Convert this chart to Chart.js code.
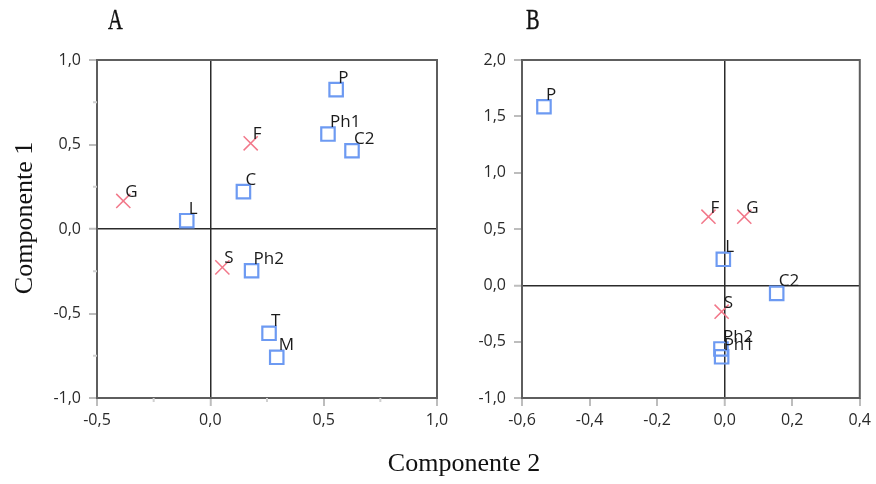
<!DOCTYPE html>
<html lang="es">
<head>
  <meta charset="UTF-8" />
  <title>Componentes A y B</title>
  <style>
    body {
      margin: 0;
      padding: 0;
      background: #ffffff;
      width: 876px;
      height: 484px;
      position: relative;
      overflow: hidden;
    }
    canvas {
      position: absolute;
      top: 0;
    }
    #chartA { left: 0; }
    #chartB { left: 440px; }
    .title {
      position: absolute;
      font-family: "Liberation Serif", serif;
      color: #111;
      white-space: nowrap;
    }
    .panel {
      font-size: 30px;
      line-height: 30px;
      top: 4px;
      transform: scaleX(0.68);
      transform-origin: left top;
      -webkit-text-stroke: 0.4px #111;
    }
    .axis {
      font-size: 26px;
      line-height: 26px;
      width: 300px;
      text-align: center;
    }
  </style>
</head>
<body>
  <canvas id="chartA" width="465" height="484"></canvas>
  <canvas id="chartB" width="436" height="484"></canvas>

  <div class="title panel" style="left:108px;">A</div>
  <div class="title panel" style="left:526px;">B</div>
  <div class="title axis" style="left:314px; top:450px;">Componente 2</div>
  <div class="title axis" style="left:-126px; top:205px; transform: rotate(-90deg);">Componente 1</div>

  <script src="https://cdn.jsdelivr.net/npm/chart.js"></script>
  <script>
    // Panel A
    const aSqLabels = ["P", "Ph1", "C2", "C", "L", "Ph2", "T", "M"];
    const aSqX = [0.555, 0.519, 0.625, 0.146, -0.104, 0.182, 0.259, 0.293];
    const aSqY = [0.825, 0.562, 0.463, 0.221, 0.049, -0.247, -0.617, -0.759];
    const aCrLabels = ["F", "G", "S"];
    const aCrX = [0.178, -0.384, 0.053];
    const aCrY = [0.507, 0.166, -0.227];

    // Panel B
    const bSqLabels = ["P", "L", "C2", "Ph2", "Ph1"];
    const bSqX = [-0.535, -0.004, 0.154, -0.011, -0.009];
    const bSqY = [1.585, 0.231, -0.071, -0.565, -0.634];
    const bCrLabels = ["F", "G", "S"];
    const bCrX = [-0.048, 0.058, -0.009];
    const bCrY = [0.609, 0.609, -0.234];

    // ejes
    const aXRange = [-0.5, 1.0], aXStep = 0.5, aXMinor = 0.25;
    const aYRange = [-1.0, 1.0], aYStep = 0.5, aYMinor = 0.25;
    const bXRange = [-0.6, 0.4], bXStep = 0.2;
    const bYRange = [-1.0, 2.0], bYStep = 0.5;

    const blue = "#6d9af2";
    const red = "#f2788a";

    Chart.defaults.font.family = "'Open Sans', sans-serif";
    Chart.defaults.font.size = 16;
    Chart.defaults.color = "#222";

    const fmt = v => (Math.abs(v) < 1e-9 ? 0 : v).toFixed(1).replace(".", ",");
    const toPts = (xs, ys) => xs.map((x, i) => ({ x: x, y: ys[i] }));

    // marco del área de trazado
    const framePlugin = {
      id: "frame",
      beforeDatasetsDraw(chart) {
        const a = chart.chartArea, ctx = chart.ctx;
        ctx.save();
        ctx.strokeStyle = "#5e5e5e";
        ctx.lineWidth = 2;
        ctx.strokeRect(a.left, a.top, a.right - a.left, a.bottom - a.top);
        ctx.restore();
      }
    };

    // marcas menores
    const minorPlugin = {
      id: "minorTicks",
      afterDraw(chart, args, opts) {
        const ctx = chart.ctx;
        ctx.save();
        ctx.strokeStyle = "#d0d0d0";
        ctx.lineWidth = 2;
        ["x", "y"].forEach(id => {
          const step = opts[id];
          if (!step) return;
          const s = chart.scales[id];
          const n = Math.round((s.max - s.min) / step);
          for (let i = 1; i < n; i += 2) {
            const p = s.getPixelForValue(s.min + i * step);
            ctx.beginPath();
            if (id === "x") {
              ctx.moveTo(p, chart.chartArea.bottom);
              ctx.lineTo(p, chart.chartArea.bottom + 4);
            } else {
              ctx.moveTo(chart.chartArea.left, p);
              ctx.lineTo(chart.chartArea.left - 4, p);
            }
            ctx.stroke();
          }
        });
        ctx.restore();
      }
    };

    // etiquetas de los puntos
    const labelPlugin = {
      id: "pointText",
      afterDatasetsDraw(chart) {
        const ctx = chart.ctx;
        ctx.save();
        ctx.font = "17px 'Open Sans', sans-serif";
        ctx.fillStyle = "#1a1a1a";
        ctx.textBaseline = "alphabetic";
        chart.data.datasets.forEach((ds, di) => {
          const meta = chart.getDatasetMeta(di);
          meta.data.forEach((el, i) => {
            ctx.fillText(ds.pointLabels[i], el.x + 2, el.y + ds.labelDy);
          });
        });
        ctx.restore();
      }
    };

    function makeAxis(range, step, pos, pad) {
      return {
        type: "linear",
        position: pos,
        min: range[0],
        max: range[1],
        border: { display: false },
        ticks: { stepSize: step, padding: pad, callback: v => fmt(v), color: "#2a2a2a" },
        grid: {
          drawOnChartArea: true,
          tickLength: 8,
          tickWidth: 2,
          tickColor: "#bdbdbd",
          color: c => (c.tick && Math.abs(c.tick.value) < 1e-9 ? "#2b2b2b" : "rgba(0,0,0,0)"),
          lineWidth: c => (c.tick && Math.abs(c.tick.value) < 1e-9 ? 1.5 : 0)
        }
      };
    }

    function makeChart(id, sq, cr, xAx, yAx, minor) {
      return new Chart(document.getElementById(id), {
        type: "scatter",
        data: {
          datasets: [
            {
              data: toPts(sq.x, sq.y),
              pointLabels: sq.labels,
              labelDy: -7,
              pointStyle: "rect",
              pointRadius: 9.5,
              borderWidth: 2.2,
              borderColor: blue,
              backgroundColor: "rgba(0,0,0,0)"
            },
            {
              data: toPts(cr.x, cr.y),
              pointLabels: cr.labels,
              labelDy: -4,
              pointStyle: "crossRot",
              pointRadius: 10,
              borderWidth: 1.5,
              borderColor: red,
              backgroundColor: red
            }
          ]
        },
        options: {
          responsive: false,
          animation: false,
          layout: { padding: { left: 0, top: 60, right: 20, bottom: 40 } },
          plugins: {
            legend: { display: false },
            tooltip: { enabled: false },
            minorTicks: minor
          },
          scales: { x: xAx, y: yAx }
        },
        plugins: [framePlugin, minorPlugin, labelPlugin]
      });
    }

    function fitArea(chart, target) {
      for (let k = 0; k < 10; k++) {
        const a = chart.chartArea;
        const p = chart.options.layout.padding;
        p.left = Math.max(0, p.left + target.left - a.left);
        p.top = Math.max(0, p.top + target.top - a.top);
        p.right = Math.max(0, p.right + a.right - target.right);
        p.bottom = Math.max(0, p.bottom + a.bottom - target.bottom);
        chart.update("none");
      }
    }

    const chartA = makeChart(
      "chartA",
      { x: aSqX, y: aSqY, labels: aSqLabels },
      { x: aCrX, y: aCrY, labels: aCrLabels },
      makeAxis(aXRange, aXStep, "bottom", 5),
      makeAxis(aYRange, aYStep, "left", 8),
      { x: aXMinor, y: aYMinor }
    );
    fitArea(chartA, { left: 97, top: 60, right: 437, bottom: 398 });

    const chartB = makeChart(
      "chartB",
      { x: bSqX, y: bSqY, labels: bSqLabels },
      { x: bCrX, y: bCrY, labels: bCrLabels },
      makeAxis(bXRange, bXStep, "bottom", 5),
      makeAxis(bYRange, bYStep, "left", 8),
      {}
    );
    fitArea(chartB, { left: 82, top: 60, right: 422, bottom: 398 });
  </script>
</body>
</html>
